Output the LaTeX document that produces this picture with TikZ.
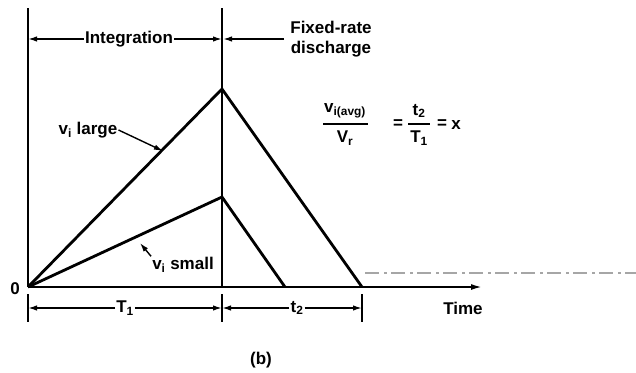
\documentclass[tikz,border=0pt]{standalone}
\usepackage{fontspec}
\setmainfont{Liberation Sans}
\usetikzlibrary{arrows.meta}
\tikzset{
  lbl/.style={inner sep=1pt, font=\fontsize{17}{20}\selectfont\bfseries},
  axis/.style={line width=1.8pt},
  ramp/.style={line width=2.8pt, line join=miter},
  dim/.style={line width=1.6pt, -{Latex[length=9pt,width=5.5pt]}},
  tick/.style={line width=1.6pt},
  scan/.style={line width=1.2pt, gray!70, dash pattern=on 14pt off 5pt on 3pt off 4pt}
}
\begin{document}
\begin{tikzpicture}[x=1pt,y=-1pt]
\useasboundingbox (0,0) rectangle (636,372);
% key coordinates
\coordinate (O) at (28,287);
\coordinate (Ltop) at (28,8);
\coordinate (Mtop) at (222,8);
\coordinate (Mbot) at (222,287);
\coordinate (PL) at (222,89);
\coordinate (PS) at (222,197);
\coordinate (EL) at (362,287);
\coordinate (ES) at (285,287);
\coordinate (AX) at (482,287);
% axes and verticals
\draw[axis] (Ltop) -- (O);
\draw[axis] (Mtop) -- (Mbot);
\draw[axis, -{Latex[length=11pt,width=6pt]}] (O) -- (AX);
% ramps
\draw[ramp] (O) -- (PL) -- (EL);
\draw[ramp] (O) -- (PS) -- (ES);
% top dimension arrows
\node[lbl] (integ) at (129,39) {Integration};
\coordinate (IL) at (28,39);
\coordinate (IR) at (222,39);
\draw[dim] (integ.west) -- (IL);
\draw[dim] (integ.east) -- (IR);
\node[lbl, align=center] (fixed) at (331,39) {Fixed-rate\\discharge};
\coordinate (FS) at (284,39);
\coordinate (FE) at (223,39);
\draw[dim] (FS) -- (FE);
% bottom ticks
\coordinate (t0a) at (28,294); \coordinate (t0b) at (28,322);
\coordinate (t1a) at (222,294); \coordinate (t1b) at (222,322);
\coordinate (t2a) at (362,294); \coordinate (t2b) at (362,322);
\draw[tick] (t0a) -- (t0b);
\draw[tick] (t1a) -- (t1b);
\draw[tick] (t2a) -- (t2b);
% bottom dimension arrows
\node[lbl] (T1) at (125,308) {T\textsubscript{1}};
\coordinate (B0) at (28,308);
\coordinate (B1) at (222,308);
\coordinate (B2) at (362,308);
\draw[dim] (T1.west) -- (B0);
\draw[dim] (T1.east) -- (B1);
\node[lbl] (t2) at (297,308) {t\textsubscript{2}};
\draw[dim] (t2.west) -- (B1);
\draw[dim] (t2.east) -- (B2);
% labels
\node[lbl] (zero) at (15,289) {0};
\node[lbl] (time) at (463,308) {Time};
\node[lbl] (b) at (261,360) {(b)};
\node[lbl] (large) at (88,130) {v\textsubscript{i} large};
\coordinate (largetip) at (163,151);
\draw[dim, line width=1.4pt] (large.east) -- (largetip);
\node[lbl] (small) at (183,265) {v\textsubscript{i} small};
\coordinate (smalltip) at (140,243);
\draw[dim, line width=1.4pt] (small.north west) -- (smalltip);
% formula
\node[lbl] (num) at (345,111) {v\textsubscript{i(avg)}};
\node[lbl] (den) at (345,138) {V\textsubscript{r}};
\draw[line width=1.5pt] (323,124) -- (368,124);
\node[lbl] (eq1) at (398,124) {=};
\node[lbl] (num2) at (419,111) {t\textsubscript{2}};
\node[lbl] (den2) at (419,138) {T\textsubscript{1}};
\draw[line width=1.5pt] (408,124) -- (430,124);
\node[lbl] (eq2) at (442,124) {=};
\node[lbl] (xx) at (456,125) {x};
% scan line on right
\coordinate (S1) at (365,273);
\coordinate (S2) at (636,273);
\draw[scan] (S1) -- (S2);
\end{tikzpicture}
\end{document}
